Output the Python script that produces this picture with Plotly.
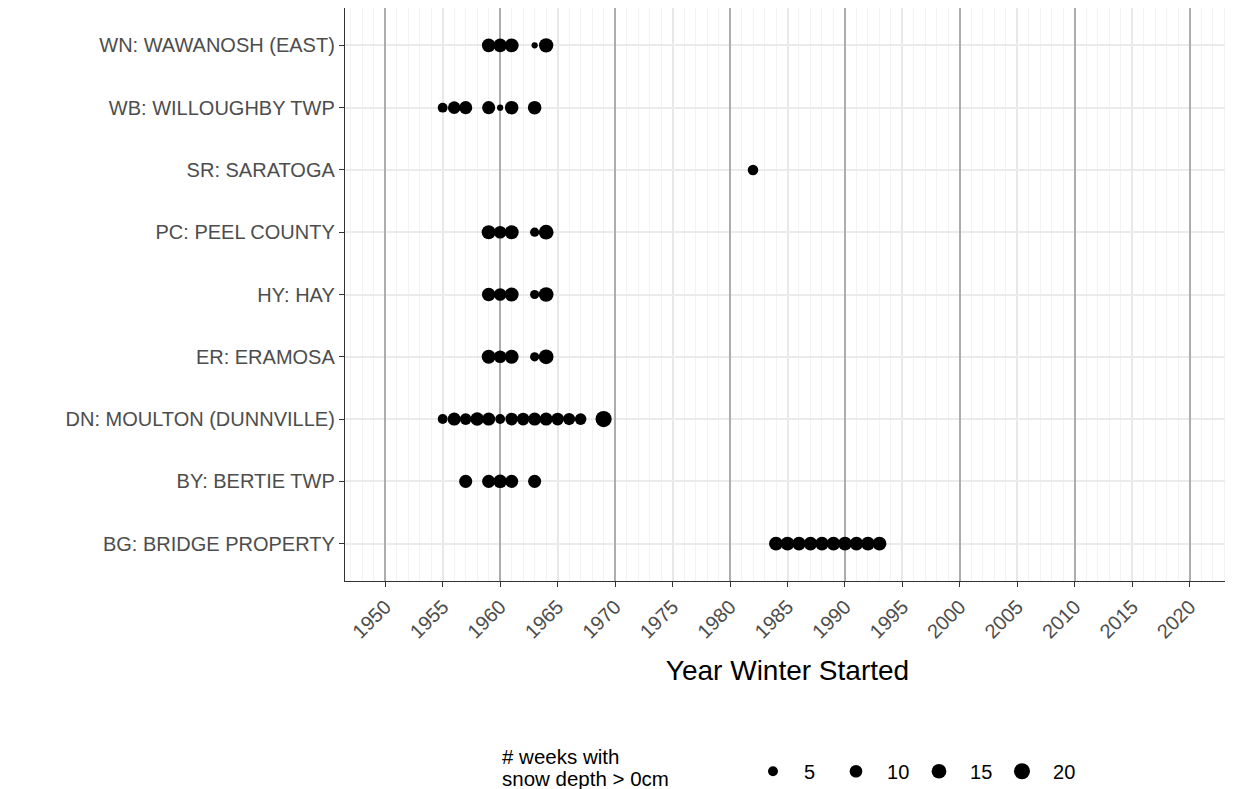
import plotly.graph_objects as go
import math

# Station categories (bottom to top)
stations = [
    "BG: BRIDGE PROPERTY",
    "BY: BERTIE TWP",
    "DN: MOULTON (DUNNVILLE)",
    "ER: ERAMOSA",
    "HY: HAY",
    "PC: PEEL COUNTY",
    "SR: SARATOGA",
    "WB: WILLOUGHBY TWP",
    "WN: WAWANOSH (EAST)",
]

# Observations: station, winter start year, weeks with snow depth > 0cm
point_station = (
    ["WN: WAWANOSH (EAST)"] * 5
    + ["WB: WILLOUGHBY TWP"] * 7
    + ["SR: SARATOGA"] * 1
    + ["PC: PEEL COUNTY"] * 5
    + ["HY: HAY"] * 5
    + ["ER: ERAMOSA"] * 5
    + ["DN: MOULTON (DUNNVILLE)"] * 14
    + ["BY: BERTIE TWP"] * 5
    + ["BG: BRIDGE PROPERTY"] * 10
)
point_year = (
    [1959, 1960, 1961, 1963, 1964]
    + [1955, 1956, 1957, 1959, 1960, 1961, 1963]
    + [1982]
    + [1959, 1960, 1961, 1963, 1964]
    + [1959, 1960, 1961, 1963, 1964]
    + [1959, 1960, 1961, 1963, 1964]
    + [1955, 1956, 1957, 1958, 1959, 1960, 1961, 1962, 1963, 1964, 1965, 1966, 1967, 1969]
    + [1957, 1959, 1960, 1961, 1963]
    + [1984, 1985, 1986, 1987, 1988, 1989, 1990, 1991, 1992, 1993]
)
point_weeks = (
    [12, 12, 13, 1, 14]
    + [5, 10, 11, 11, 1, 12, 12]
    + [6]
    + [13, 10, 13, 4, 15]
    + [12, 10, 13, 4, 15]
    + [13, 10, 13, 4, 15]
    + [5, 11, 8, 12, 11, 5, 10, 10, 11, 11, 10, 9, 8, 19]
    + [11, 11, 12, 11, 11]
    + [13, 13, 12, 12, 12, 12, 13, 12, 13, 13]
)

legend_weeks = [5, 10, 15, 20]
x_tick_vals = list(range(1950, 2021, 5))
legend_title_lines = ["# weeks with", "snow depth > 0cm"]


def diam(v):
    return 3.3 + 2.95 * math.sqrt(v)


fig = go.Figure()
fig.add_trace(
    go.Scatter(
        x=point_year,
        y=point_station,
        mode="markers",
        marker=dict(color="black", opacity=1, size=[diam(v) for v in point_weeks], line=dict(width=0)),
        showlegend=False,
        hoverinfo="x+y",
    )
)
for w in legend_weeks:
    fig.add_trace(
        go.Scatter(
            x=[None],
            y=[None],
            mode="markers",
            name="&nbsp;&nbsp;" + str(w),
            marker=dict(color="black", opacity=1, size=diam(w), line=dict(width=0)),
        )
    )
# overlay axis carrying the decade gridlines
fig.add_trace(go.Scatter(x=[None], y=[None], xaxis="x2", showlegend=False, hoverinfo="skip"))

font_family = "Liberation Sans, Arial, sans-serif"
fig.update_layout(
    width=1225,
    height=781,
    paper_bgcolor="white",
    plot_bgcolor="white",
    margin=dict(l=337, r=3, t=0, b=208, autoexpand=False),
    font=dict(family=font_family, color="black"),
    xaxis=dict(
        range=[1946.5, 2023.5],
        tickvals=x_tick_vals,
        ticktext=[str(v) for v in x_tick_vals],
        tickangle=-45,
        tickfont=dict(size=20, color="#4D4D4D"),
        ticks="outside",
        ticklen=5,
        tickwidth=1.4,
        tickcolor="#333333",
        showgrid=True,
        gridcolor="#E8E8E8",
        gridwidth=1.8,
        minor=dict(dtick=1, tick0=1950, showgrid=True, gridcolor="#F3F3F3", gridwidth=1, ticks=""),
        showline=True,
        linecolor="#333333",
        linewidth=1.4,
        mirror=True,
        zeroline=False,
        automargin=False,
        title=dict(text="Year Winter Started", font=dict(size=28, color="black"), standoff=18),
    ),
    xaxis2=dict(
        overlaying="x",
        range=[1946.5, 2023.5],
        dtick=10,
        tick0=1950,
        showgrid=True,
        gridcolor="#ADADAD",
        gridwidth=1.8,
        showticklabels=False,
        ticks="",
        zeroline=False,
        showline=False,
        automargin=False,
    ),
    yaxis=dict(
        type="category",
        categoryorder="array",
        categoryarray=stations,
        range=[-0.6, 8.6],
        tickfont=dict(size=20, color="#4D4D4D"),
        ticks="outside",
        ticklen=5,
        tickwidth=1.4,
        tickcolor="#333333",
        showgrid=True,
        gridcolor="#EBEBEB",
        gridwidth=1.8,
        showline=True,
        linecolor="#333333",
        linewidth=1.4,
        mirror=True,
        zeroline=False,
        automargin=False,
    ),
    legend=dict(
        orientation="h",
        x=0.461,
        y=-0.298,
        xanchor="left",
        yanchor="top",
        itemsizing="trace",
        entrywidth=38,
        font=dict(size=20, color="black"),
        traceorder="normal",
    ),
    annotations=[
        dict(
            text=legend_title_lines[0],
            xref="paper", yref="paper",
            x=0.175, y=-0.307,
            xanchor="left", yanchor="middle",
            showarrow=False,
            font=dict(size=20.5, color="black"),
        ),
        dict(
            text=legend_title_lines[1],
            xref="paper", yref="paper",
            x=0.175, y=-0.345,
            xanchor="left", yanchor="middle",
            showarrow=False,
            font=dict(size=20.5, color="black"),
        ),
    ],
    hovermode="closest",
)

fig.write_html("out.html")
